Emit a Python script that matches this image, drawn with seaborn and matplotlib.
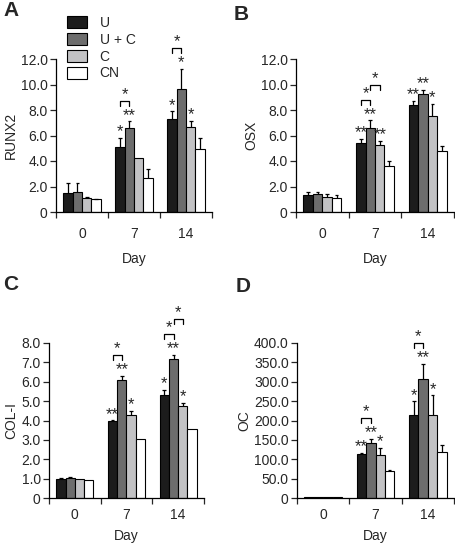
import numpy as np
import pandas as pd
import matplotlib
matplotlib.use("Agg")
import matplotlib.pyplot as plt
import seaborn as sns
from matplotlib.patches import Patch

sns.set_theme(style="ticks")
plt.rcParams['font.family'] = ['Liberation Sans', 'DejaVu Sans']

DAYS = ["0", "7", "14"]
GROUPS = ["U", "U + C", "C", "CN"]
COLORS = ["#1c1c1c", "#6d6d6d", "#c2c2c4", "#ffffff"]

# values [group][day]
RUNX2_MEAN = [[1.5, 5.1, 7.3], [1.6, 6.55, 9.65], [1.1, 4.2, 6.65], [1.0, 2.7, 4.95]]
RUNX2_ERR = [[0.8, 0.7, 0.6], [0.7, 0.55, 1.6], [0.05, 0.0, 0.5], [0.05, 0.7, 0.85]]
OSX_MEAN = [[1.3, 5.45, 8.4], [1.4, 6.55, 9.25], [1.15, 5.25, 7.5], [1.1, 3.6, 4.75]]
OSX_ERR = [[0.3, 0.3, 0.3], [0.2, 0.65, 0.35], [0.25, 0.35, 1.0], [0.2, 0.4, 0.45]]
COL_MEAN = [[1.0, 3.95, 5.3], [1.05, 6.1, 7.2], [0.98, 4.3, 4.75], [0.93, 3.05, 3.55]]
COL_ERR = [[0.03, 0.07, 0.3], [0.05, 0.2, 0.2], [0.0, 0.2, 0.15], [0.0, 0.0, 0.0]]
OC_MEAN = [[2.0, 113, 215], [2.0, 143, 307], [2.0, 110, 213], [2.0, 70, 118]]
OC_ERR = [[0.0, 3, 35], [0.0, 10, 40], [0.0, 20, 52], [0.0, 3, 19]]

# significance stars above bars [group][day]
RUNX2_STARS = [["", "*", "*"], ["", "**", "*"], ["", "", "*"], ["", "", ""]]
OSX_STARS = [["", "**", "**"], ["", "**", "**"], ["", "**", "*"], ["", "", ""]]
COL_STARS = [["", "**", "*"], ["", "**", "**"], ["", "*", "*"], ["", "", ""]]
OC_STARS = [["", "**", "*"], ["", "**", "**"], ["", "*", "*"], ["", "", ""]]

# brackets: (day index, group a, group b, level)
RUNX2_BR = [(1, 0, 1, 0), (2, 0, 1, 0)]
OSX_BR = [(1, 0, 1, 0), (1, 1, 2, 1)]
COL_BR = [(1, 0, 1, 0), (2, 0, 1, 0), (2, 1, 2, 1)]
OC_BR = [(1, 0, 1, 0), (2, 0, 1, 0)]

PANELS = [
    ("A", "RUNX2", RUNX2_MEAN, RUNX2_ERR, RUNX2_STARS, RUNX2_BR, 12.0, 2.0),
    ("B", "OSX", OSX_MEAN, OSX_ERR, OSX_STARS, OSX_BR, 12.0, 2.0),
    ("C", "COL-I", COL_MEAN, COL_ERR, COL_STARS, COL_BR, 8.0, 1.0),
    ("D", "OC", OC_MEAN, OC_ERR, OC_STARS, OC_BR, 400.0, 50.0),
]

W, H = 455, 543
fig = plt.figure(figsize=(W / 100, H / 100), dpi=100)

boxes = [(56, 212, 59, 212), (296, 454, 59, 212), (49, 204, 343, 498), (297, 454, 343, 498)]
letter_pos = [(3, 1), (234, 5), (3, 275), (236, 277)]
tick_pads = [11, 11, 7, 7]
label_pads = [8, 8, 5, 5]

FS = 10

for (letter, ylab, mean, err, stars, brs, ymax, ystep), (x0, x1, yt, yb), (lx, ly), tp, lp in zip(
        PANELS, boxes, letter_pos, tick_pads, label_pads):
    ax = fig.add_axes([x0 / W, 1 - yb / H, (x1 - x0) / W, (yb - yt) / H])
    rows = []
    for g, grp in enumerate(GROUPS):
        for d, day in enumerate(DAYS):
            rows.append({"day": day, "group": grp, "val": mean[g][d]})
    df = pd.DataFrame(rows)
    sns.barplot(data=df, x="day", y="val", hue="group", order=DAYS, hue_order=GROUPS,
                palette=COLORS, width=0.72, gap=0, edgecolor="black", linewidth=0.8,
                errorbar=None, legend=False, ax=ax, saturation=1)
    rng = ymax
    tops = {}
    for g, cont in enumerate(ax.containers):
        for d, p in enumerate(cont.patches):
            xc = p.get_x() + p.get_width() / 2
            m = mean[g][d]
            e = err[g][d]
            if e > 0:
                ax.vlines(xc, m, m + e, color="black", lw=0.9, clip_on=False)
                ax.hlines(m + e, xc - 0.035, xc + 0.035, color="black", lw=0.9, clip_on=False)
            tops[(g, d)] = (xc, m + e)
            s = stars[g][d]
            if s:
                ax.text(xc, m + e - 0.01 * rng, s, ha="center", va="bottom", fontsize=FS + 2,
                        clip_on=False)
    for d, a, b, lev in brs:
        xa, ya = tops[(a, d)]
        xb, yb_ = tops[(b, d)]
        base = max(ya, yb_) + 0.10 * rng + lev * 0.095 * rng
        h = 0.035 * rng
        ax.plot([xa, xa, xb, xb], [base, base + h, base + h, base], color="black", lw=0.9,
                clip_on=False)
        ax.text((xa + xb) / 2, base + h - 0.01 * rng, "*", ha="center", va="bottom",
                fontsize=FS + 2, clip_on=False)

    ax.set_xlim(-0.5, 2.5)
    ax.set_ylim(0, ymax)
    yt_vals = np.arange(0, ymax + ystep / 2, ystep)
    ax.set_yticks(yt_vals)
    ax.set_yticklabels(["0" if v == 0 else f"{v:.1f}" for v in yt_vals], fontsize=FS)
    ax.set_xticks([-0.5, 0.5, 1.5, 2.5])
    ax.set_xticklabels([])
    ax.set_xticks([0, 1, 2], minor=True)
    ax.set_xticklabels(DAYS, minor=True, fontsize=FS)
    ax.tick_params(axis="x", which="minor", length=0, pad=tp)
    ax.tick_params(axis="x", which="major", length=4, width=0.9, direction="out")
    ax.tick_params(axis="y", length=4, width=0.9, direction="out", pad=2)
    for sp in ["top", "right"]:
        ax.spines[sp].set_visible(False)
    for sp in ["left", "bottom"]:
        ax.spines[sp].set_linewidth(0.9)
        ax.spines[sp].set_color("black")
    ax.set_xlabel("Day", fontsize=FS, labelpad=lp)
    ax.set_ylabel(ylab, fontsize=FS, labelpad=2)
    fig.text(lx / W, 1 - ly / H, letter, fontsize=15, fontweight="bold", ha="left", va="top")

    if letter == "A":
        handles = [Patch(facecolor=c, edgecolor="black", linewidth=0.8) for c in COLORS]
        ax.legend(handles, GROUPS, loc="upper left", bbox_to_anchor=(67 / W, 1 - 16 / H),
                  bbox_transform=fig.transFigure, frameon=False, fontsize=FS,
                  handlelength=1.45, handleheight=0.95, labelspacing=0.2, handletextpad=0.9,
                  borderaxespad=0, borderpad=0)

fig.savefig("out.png", dpi=100)
